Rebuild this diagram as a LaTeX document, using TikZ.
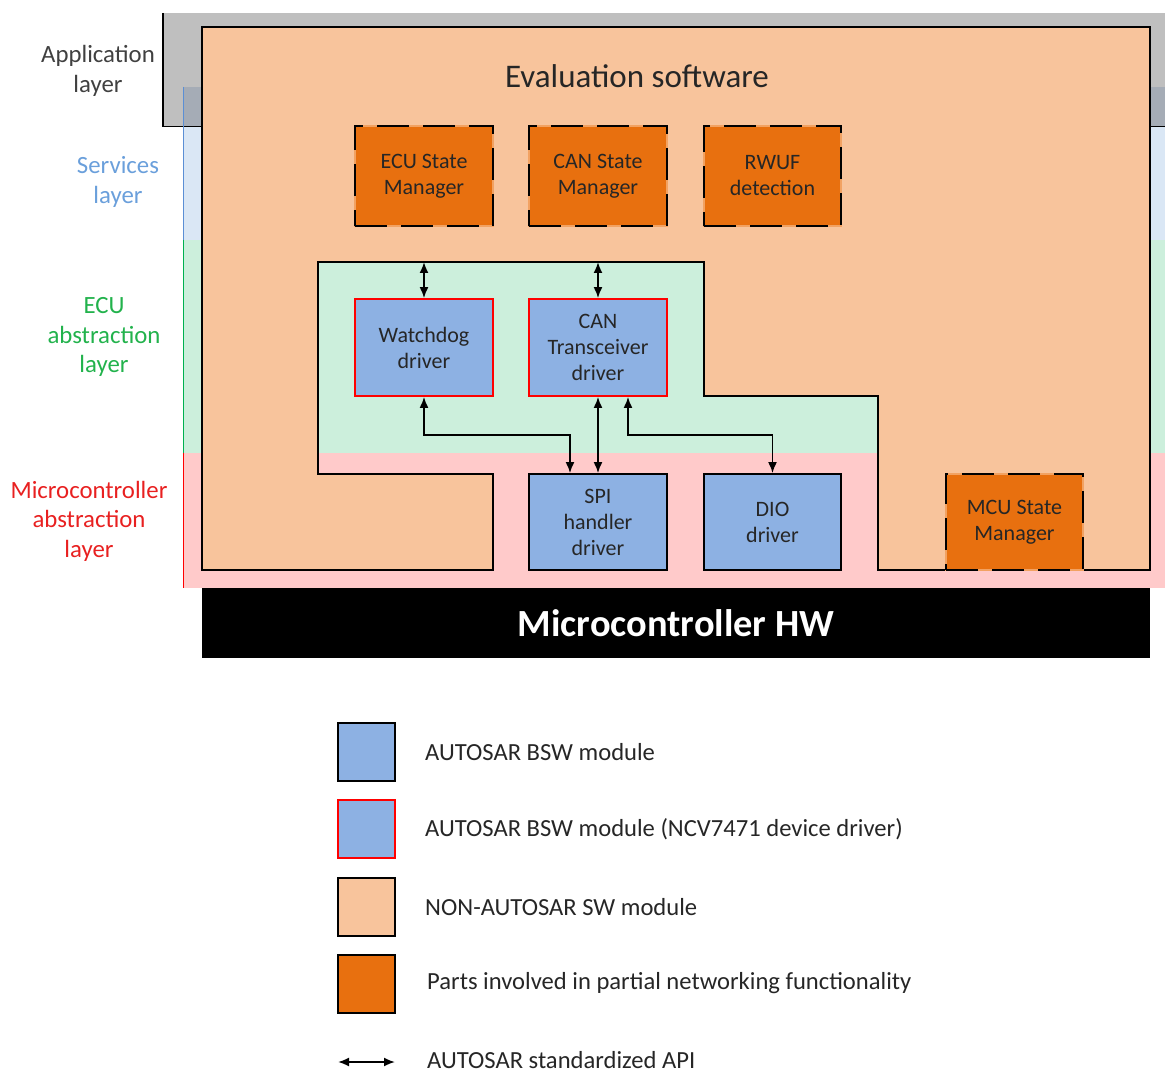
\documentclass[tikz,border=0pt]{standalone}
\usepackage{fontspec}
\setmainfont{Carlito}
\usetikzlibrary{arrows.meta}

\definecolor{appgray}{HTML}{BFBFBF}
\definecolor{appover}{HTML}{A5ACB6}
\definecolor{srvband}{HTML}{DAE7F5}
\definecolor{ecuband}{HTML}{CCEFDC}
\definecolor{mcalband}{HTML}{FFCACA}
\definecolor{nonautosar}{HTML}{F8C49C}
\definecolor{pnorange}{HTML}{E8700F}
\definecolor{pngap}{HTML}{F2A262}
\definecolor{bswblue}{HTML}{8DB1E3}
\definecolor{ncvred}{HTML}{FF0000}
\definecolor{txtdark}{HTML}{262626}
\definecolor{lblapp}{HTML}{404040}
\definecolor{lblsrv}{HTML}{6A9FDB}
\definecolor{lblecu}{HTML}{22B24C}
\definecolor{lblmcal}{HTML}{E82020}
\definecolor{linesrv}{HTML}{5B8FD5}
\definecolor{lineecu}{HTML}{00B050}
\definecolor{linemcal}{HTML}{FF0000}

\newcommand{\modfont}{\fontsize{22}{26}\selectfont}
\newcommand{\lblfont}{\fontsize{24.8}{29.5}\selectfont}
\newcommand{\legfont}{\fontsize{24.6}{29.5}\selectfont}

\begin{document}
\begin{tikzpicture}[x=1pt,y=-1pt,
  module/.style={minimum width=138pt,minimum height=97pt,inner sep=0pt,
    align=center,font=\modfont,text=txtdark},
  bsw/.style={module,fill=bswblue,draw=black,line width=1.8pt},
  ncv/.style={module,fill=bswblue,draw=ncvred,line width=1.8pt},
  pnbox/.style={module,minimum height=100pt,fill=pnorange,draw=pngap,line width=2.6pt,
    postaction={draw=black,line width=2.6pt,dash pattern=on 32pt off 14pt}},
  api/.style={{Latex[length=11pt,width=9pt]}-{Latex[length=11pt,width=9pt]},line width=1.8pt},
  layerlbl/.style={align=center,font=\lblfont,inner sep=0pt},
  legbox/.style={minimum width=57pt,minimum height=58pt,inner sep=0pt,line width=1.8pt},
  legtxt/.style={anchor=west,font=\legfont,text=txtdark,inner sep=0pt}
]
\useasboundingbox (0,0) rectangle (1165,1075);

% layer bands
\fill[appgray] (163,13) rectangle (1165,127);
\fill[appover] (183,87) rectangle (1165,127);
\fill[srvband] (183,127) rectangle (1165,240);
\fill[ecuband] (183,240) rectangle (1165,453);
\fill[mcalband] (183,453) rectangle (1165,588);
\draw[line width=1.8pt] (163,13) -- (163,126.5) -- (1165,126.5);

% layer markers
\draw[linesrv,line width=1.8pt] (183.5,87) -- (183.5,240);
\draw[lineecu,line width=1.8pt] (183.5,240) -- (183.5,453);
\draw[linemcal,line width=1.8pt] (183.5,453) -- (183.5,588);

% layer labels
\node[layerlbl,text=lblapp] (lapp) at (98,71) {Application\\layer};
\node[layerlbl,text=lblsrv] (lsrv) at (118,182) {Services\\layer};
\node[layerlbl,text=lblecu] (lecu) at (104,337) {ECU\\abstraction\\layer};
\node[layerlbl,text=lblmcal] (lmcal) at (89,521) {Microcontroller\\abstraction\\layer};

% evaluation software (non-AUTOSAR area)
\draw[fill=nonautosar,line width=1.8pt]
  (202,27) -- (1150,27) -- (1150,570) -- (878,570) -- (878,396) -- (704,396)
  -- (704,262) -- (318,262) -- (318,474) -- (493,474) -- (493,570) -- (202,570) -- cycle;
\coordinate (ecutop) at (318,262);
\coordinate (busy) at (0,435);
\node[font=\fontsize{33}{38}\selectfont,text=txtdark,inner sep=0pt] (evalsw) at (637,76) {Evaluation software};

% modules
\node[pnbox] (ecusm) at (424,176) {ECU State\\Manager};
\node[pnbox] (cansm) at (598,176) {CAN State\\Manager};
\node[pnbox,minimum width=137pt] (rwuf) at (772.5,176) {RWUF\\detection};

\node[ncv] (wd) at (424,347.5) {Watchdog\\driver};
\node[ncv] (ct) at (598,347.5) {CAN\\Transceiver\\driver};

\node[bsw,minimum height=96pt] (spi) at (598,522) {SPI\\handler\\driver};
\node[bsw,minimum width=137pt,minimum height=96pt] (dio) at (772.5,522) {DIO\\driver};
\node[pnbox,minimum width=137pt,minimum height=96pt] (mcusm) at (1014.5,522) {MCU State\\Manager};

% standardized API connections
\draw[api] (wd.north) -- (wd.north |- ecutop);
\draw[api] (ct.north) -- (ct.north |- ecutop);
\draw[api] (wd.south) -- (wd.south |- busy) -| ([xshift=-28pt]spi.north);
\draw[api] (ct.south) -- (spi.north);
\draw[api] ([xshift=30pt]ct.south) -- ([xshift=30pt]ct.south |- busy) -| (dio.north);

% hardware
\node[fill=black,minimum width=948pt,minimum height=70pt,inner sep=0pt,
  text=white,font=\fontsize{38.4}{44}\selectfont\bfseries] (hw) at (676,623) {Microcontroller HW};

% legend
\node[legbox,fill=bswblue,draw=black] (leg1) at (366.5,752) {};
\node[legbox,fill=bswblue,draw=ncvred] (leg2) at (366.5,829) {};
\node[legbox,fill=nonautosar,draw=black] (leg3) at (366.5,907) {};
\node[legbox,fill=pnorange,draw=black] (leg4) at (366.5,984) {};
\node[legtxt] (legt1) at (425,752) {AUTOSAR BSW module};
\node[legtxt] (legt2) at (425,829) {AUTOSAR BSW module (NCV7471 device driver)};
\node[legtxt] (legt3) at (425,907) {NON-AUTOSAR SW module};
\node[legtxt] (legt4) at (427,983) {Parts involved in partial networking functionality};
\coordinate (legal) at (338,1062);
\coordinate (legar) at (395,1062);
\draw[api] (legal) -- (legar);
\node[legtxt] (legt5) at (427,1060) {AUTOSAR standardized API};
\end{tikzpicture}
\end{document}
